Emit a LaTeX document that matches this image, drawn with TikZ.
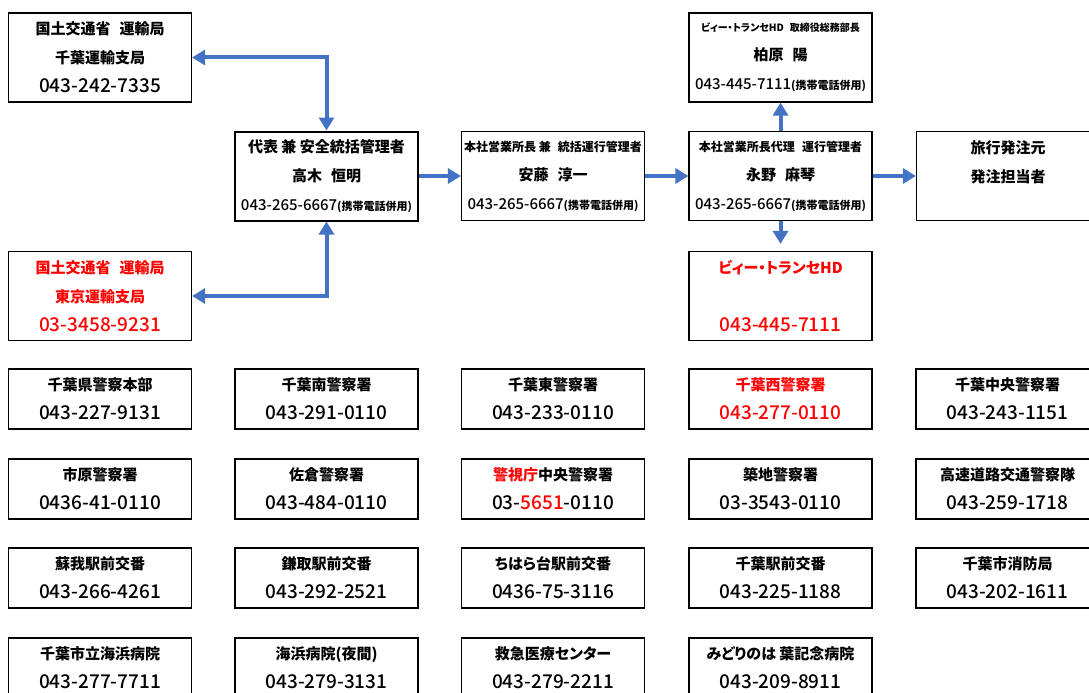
\documentclass[tikz,border=0pt]{standalone}
\usepackage{fontspec}
\setmainfont{Noto Sans CJK JP}[RawFeature=+palt]
\newfontfamily\telfont{Noto Sans CJK JP Medium}
\usetikzlibrary{arrows.meta}
\definecolor{linkblue}{RGB}{68,114,196}
\definecolor{alertred}{RGB}{255,0,0}
\newcommand{\tel}[1]{{\fontsize{19}{29}\telfont\mdseries #1}}
\newcommand{\mtel}[1]{{\fontsize{15}{29}\telfont\mdseries #1}}
\newcommand{\note}[1]{{\fontsize{11}{29}\selectfont #1}}
\newcommand{\role}[1]{{\fontsize{12}{29}\selectfont #1}}
\newcommand{\tinyrole}[1]{{\fontsize{10}{29}\selectfont #1}}
\newcommand{\gap}{\hspace{0.6em}}
\newcommand{\alert}[1]{\textcolor{alertred}{#1}}
\tikzset{
	box/.style={draw=black, line width=1.2pt, minimum width=183pt, minimum height=89pt, inner sep=0pt, align=center, font=\fontsize{15}{29}\selectfont\bfseries},
	chief/.style={box, line width=2pt},
	entry/.style={box, minimum height=60pt},
	link/.style={draw=linkblue, line width=4pt, >={Triangle[length=13pt,width=15pt]}, ->},
}
\begin{document}
\begin{tikzpicture}[x=1pt, y=-1pt]
	\useasboundingbox (0,0) rectangle (1089,693);
	\clip (0,0) rectangle (1089,693);
	\node[box] (chibakyoku) at (100,57.5) {国土交通省\gap 運輸局\\千葉運輸支局\\\tel{043-242-7335}};
	\node[box, text=alertred] (tokyokyoku) at (100,296) {国土交通省\gap 運輸局\\東京運輸支局\\\tel{03-3458-9231}};
	\node[chief] (takagi) at (326.5,176) {代表 兼 安全統括管理者\\高木\gap 恒明\\\mtel{043-265-6667}\note{(携帯電話併用)}};
	\node[box] (ando) at (553,176) {\role{本社営業所長 兼\gap 統括運行管理者}\\安藤\gap 淳一\\\mtel{043-265-6667}\note{(携帯電話併用)}};
	\node[box] (nagano) at (780.5,176) {\role{本社営業所長代理\gap 運行管理者}\\永野\gap 麻琴\\\mtel{043-265-6667}\note{(携帯電話併用)}};
	\node[box] (kashiwara) at (780.5,57.5) {\tinyrole{ビィー・トランセHD\gap 取締役総務部長}\\柏原\gap 陽\\\mtel{043-445-7111}\note{(携帯電話併用)}};
	\node[box] (ryoko) at (1008,176) {旅行発注元\\発注担当者\\\mbox{}};
	\node[box, text=alertred] (bhd) at (780.5,296) {ビィー・トランセHD\\\mbox{}\\\tel{043-445-7111}};
	\draw[link, <->] (takagi.north) |- (chibakyoku.east);
	\draw[link, <->] (takagi.south) |- (tokyokyoku.east);
	\draw[link] (takagi.east) -- (ando.west);
	\draw[link] (ando.east) -- (nagano.west);
	\draw[link] (nagano.east) -- (ryoko.west);
	\draw[link] (nagano.north) -- (kashiwara.south);
	\draw[link, shorten >=7pt] (nagano.south) -- (bhd.north);
	\node[entry] (kenkei) at (100,399) {千葉県警察本部\\\tel{043-227-9131}};
	\node[entry] (minami) at (326.5,399) {千葉南警察署\\\tel{043-291-0110}};
	\node[entry] (higashi) at (553,399) {千葉東警察署\\\tel{043-233-0110}};
	\node[entry, text=alertred] (nishi) at (780.5,399) {千葉西警察署\\\tel{043-277-0110}};
	\node[entry] (chuo) at (1007.5,399) {千葉中央警察署\\\tel{043-243-1151}};
	\node[entry] (ichihara) at (100,489) {市原警察署\\\tel{0436-41-0110}};
	\node[entry] (sakura) at (326.5,489) {佐倉警察署\\\tel{043-484-0110}};
	\node[entry] (keishicho) at (553,489) {\alert{警視庁}中央警察署\\\tel{03-\alert{5651}-0110}};
	\node[entry] (tsukiji) at (780.5,489) {築地警察署\\\tel{03-3543-0110}};
	\node[entry] (kosoku) at (1007.5,489) {高速道路交通警察隊\\\tel{043-259-1718}};
	\node[entry] (soga) at (100,578) {蘇我駅前交番\\\tel{043-266-4261}};
	\node[entry] (kamatori) at (326.5,578) {鎌取駅前交番\\\tel{043-292-2521}};
	\node[entry] (chiharadai) at (553,578) {ちはら台駅前交番\\\tel{0436-75-3116}};
	\node[entry] (chibaeki) at (780.5,578) {千葉駅前交番\\\tel{043-225-1188}};
	\node[entry] (shobo) at (1007.5,578) {千葉市消防局\\\tel{043-202-1611}};
	\node[entry] (kaihin) at (100,668) {千葉市立海浜病院\\\tel{043-277-7711}};
	\node[entry] (yakan) at (326.5,668) {海浜病院(夜間)\\\tel{043-279-3131}};
	\node[entry] (kyukyu) at (553,668) {救急医療センター\\\tel{043-279-2211}};
	\node[entry] (midori) at (780.5,668) {みどりのは 葉記念病院\\\tel{043-209-8911}};
\end{tikzpicture}
\end{document}
